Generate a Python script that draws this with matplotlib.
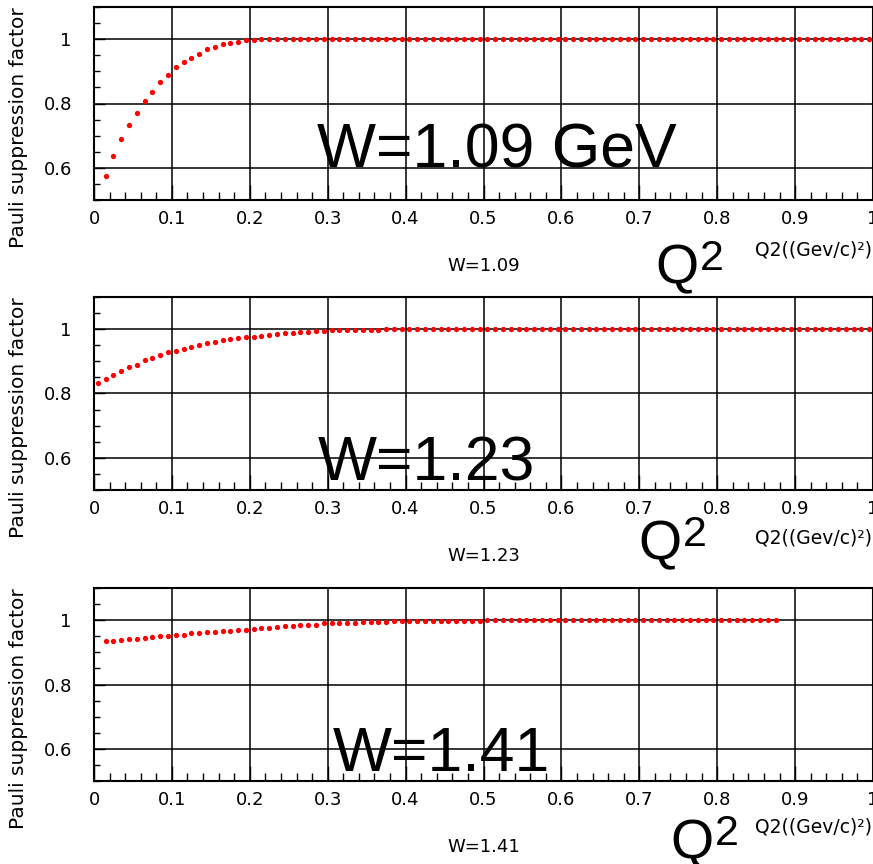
import matplotlib
matplotlib.use("Agg")
import matplotlib.pyplot as plt
import numpy as np
from matplotlib.ticker import MultipleLocator, FuncFormatter

# ----------------------
# Pauli suppression factor vs Q^2, one sample every 0.01 (GeV/c)^2
# ----------------------
q2_w109 = np.round(np.arange(0.015, 1.0, 0.01), 3)
pauli_w109 = [
    0.575, 0.637, 0.690, 0.734, 0.771, 0.808, 0.837, 0.866, 0.890, 0.912,
    0.928, 0.943, 0.955, 0.968, 0.976, 0.984, 0.989, 0.992, 0.996, 0.996,
    1.0, 1.0, 1.0, 1.0, 1.0, 1.0, 1.0, 1.0, 1.0, 1.0,
    1.0, 1.0, 1.0, 1.0, 1.0, 1.0, 1.0, 1.0, 1.0, 1.0,
    1.0, 1.0, 1.0, 1.0, 1.0, 1.0, 1.0, 1.0, 1.0, 1.0,
    1.0, 1.0, 1.0, 1.0, 1.0, 1.0, 1.0, 1.0, 1.0, 1.0,
    1.0, 1.0, 1.0, 1.0, 1.0, 1.0, 1.0, 1.0, 1.0, 1.0,
    1.0, 1.0, 1.0, 1.0, 1.0, 1.0, 1.0, 1.0, 1.0, 1.0,
    1.0, 1.0, 1.0, 1.0, 1.0, 1.0, 1.0, 1.0, 1.0, 1.0,
    1.0, 1.0, 1.0, 1.0, 1.0, 1.0, 1.0, 1.0, 1.0,
]

q2_w123 = np.round(np.arange(0.005, 1.0, 0.01), 3)
pauli_w123 = [
    0.832, 0.845, 0.857, 0.871, 0.881, 0.890, 0.903, 0.910, 0.919, 0.929,
    0.931, 0.939, 0.944, 0.951, 0.957, 0.961, 0.965, 0.969, 0.972, 0.975,
    0.976, 0.979, 0.983, 0.985, 0.987, 0.989, 0.990, 0.991, 0.993, 0.993,
    0.996, 0.997, 0.997, 0.997, 0.997, 0.997, 0.997, 1.0, 1.0, 1.0,
    1.0, 1.0, 1.0, 1.0, 1.0, 1.0, 1.0, 1.0, 1.0, 1.0,
    1.0, 1.0, 1.0, 1.0, 1.0, 1.0, 1.0, 1.0, 1.0, 1.0,
    1.0, 1.0, 1.0, 1.0, 1.0, 1.0, 1.0, 1.0, 1.0, 1.0,
    1.0, 1.0, 1.0, 1.0, 1.0, 1.0, 1.0, 1.0, 1.0, 1.0,
    1.0, 1.0, 1.0, 1.0, 1.0, 1.0, 1.0, 1.0, 1.0, 1.0,
    1.0, 1.0, 1.0, 1.0, 1.0, 1.0, 1.0, 1.0, 1.0, 1.0,
]

q2_w141 = np.round(np.arange(0.015, 0.88, 0.01), 3)
pauli_w141 = [
    0.935, 0.935, 0.939, 0.940, 0.943, 0.944, 0.947, 0.950, 0.951, 0.953,
    0.955, 0.959, 0.960, 0.963, 0.964, 0.966, 0.967, 0.970, 0.970, 0.974,
    0.975, 0.976, 0.979, 0.981, 0.981, 0.984, 0.985, 0.986, 0.990, 0.990,
    0.990, 0.990, 0.991, 0.993, 0.993, 0.993, 0.994, 0.997, 0.997, 0.997,
    0.997, 0.997, 0.997, 0.997, 0.997, 0.997, 0.997, 0.997, 0.997, 1.0,
    1.0, 1.0, 1.0, 1.0, 1.0, 1.0, 1.0, 1.0, 1.0, 1.0,
    1.0, 1.0, 1.0, 1.0, 1.0, 1.0, 1.0, 1.0, 1.0, 1.0,
    1.0, 1.0, 1.0, 1.0, 1.0, 1.0, 1.0, 1.0, 1.0, 1.0,
    1.0, 1.0, 1.0, 1.0, 1.0, 1.0, 1.0,
]

w_small = ["W=1.09", "W=1.23", "W=1.41"]
w_big = ["W=1.09 GeV", "W=1.23", "W=1.41"]

# ----------------------
# Layout (pixel positions on an 873x864 canvas)
# ----------------------
W, H = 873, 864
fig = plt.figure(figsize=(W / 100, H / 100), dpi=100)
plt.rcParams["font.family"] = "DejaVu Sans"


def fx(px):
    return px / W


def fy(py):
    return 1 - py / H


panels = [
    # top, bottom, q2, pauli, big-label pos, Q pos, Q2 label y
    (7, 200, q2_w109, pauli_w109, (317, 167), (655, 283), 250),
    (297, 490, q2_w123, pauli_w123, (318, 481), (638, 559), 538),
    (588, 781, q2_w141, pauli_w141, (333, 771), (670, 858), 827),
]

fmt = FuncFormatter(lambda v, pos: "%g" % round(v, 3))

for i, (top, bot, q2, pauli, big_pos, q_pos, lab_y) in enumerate(panels):
    ax = fig.add_axes([fx(94), fy(bot), 1 - fx(94), (bot - top) / H])
    ax.plot(q2, pauli, "o", color="red", ms=3.8, mew=0, zorder=3)

    ax.set_xlim(0, 1)
    ax.set_ylim(0.5, 1.1)
    ax.xaxis.set_major_locator(MultipleLocator(0.1))
    ax.xaxis.set_minor_locator(MultipleLocator(0.02))
    ax.yaxis.set_major_locator(MultipleLocator(0.2))
    ax.yaxis.set_minor_locator(MultipleLocator(0.05))
    ax.xaxis.set_major_formatter(fmt)
    ax.yaxis.set_major_formatter(fmt)

    ax.grid(which="major", color="black", lw=1.1)
    ax.tick_params(which="both", direction="in", color="black", width=1)
    ax.tick_params(axis="x", which="minor", length=5.8)
    ax.tick_params(axis="y", which="minor", length=4.3)
    ax.tick_params(axis="x", which="major", length=11, pad=7, labelsize=13)
    ax.tick_params(axis="y", which="major", length=8, pad=16, labelsize=13)
    for s in ax.spines.values():
        s.set_linewidth(1.5)

    # axis titles
    fig.text(fx(18.5), fy(top), "Pauli suppression factor", rotation=90,
             ha="center", va="top", fontsize=14.5)
    fig.text(fx(872), fy(lab_y), "Q2((Gev/c)²)", ha="right", va="center",
             fontsize=13.5)
    fig.text(fx(484), fy(bot + 66), w_small[i], ha="center", va="center",
             fontsize=13)

    # big annotations
    fig.text(fx(big_pos[0]), fy(big_pos[1]), w_big[i], ha="left",
             va="baseline", fontsize=45, family="Liberation Sans")
    fig.text(fx(q_pos[0]), fy(q_pos[1]), "Q", ha="left", va="baseline",
             fontsize=40, family="Liberation Sans")
    fig.text(fx(q_pos[0] + 45), fy(q_pos[1] - 13), "2", ha="left",
             va="baseline", fontsize=31, family="Liberation Sans")

fig.savefig("out.png", dpi=100)
